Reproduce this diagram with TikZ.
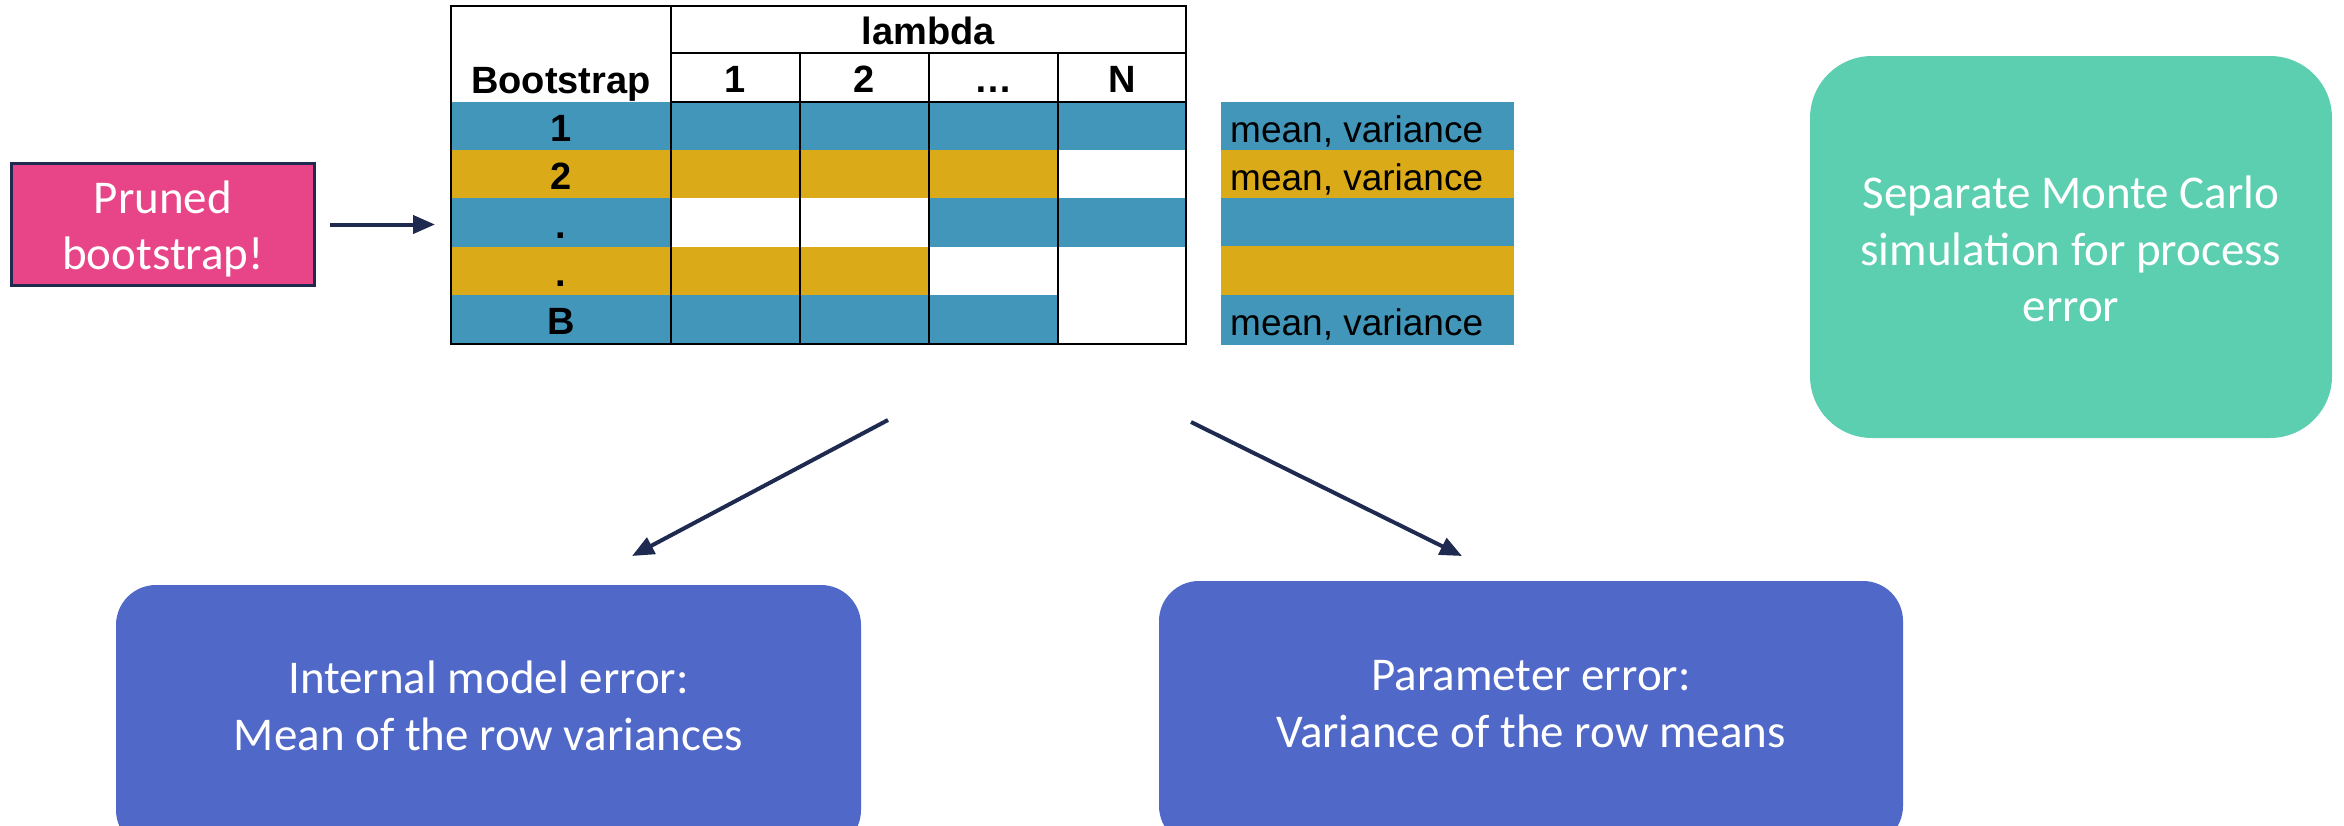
\documentclass[tikz,border=0pt]{standalone}
\usepackage{fontspec}
\setmainfont{Carlito}
\newfontfamily\arialfont{Liberation Sans}
\usetikzlibrary{arrows.meta}
\definecolor{tblue}{RGB}{65,150,186}
\definecolor{tgold}{RGB}{218,170,24}
\definecolor{navy}{RGB}{31,42,80}
\definecolor{pinkc}{RGB}{232,69,137}
\definecolor{greenc}{RGB}{93,207,177}
\definecolor{bluebox}{RGB}{80,104,200}
\begin{document}
\begin{tikzpicture}[x=1pt,y=-1pt,
  tb/.style={font=\arialfont\bfseries\fontsize{38}{44}\selectfont, anchor=base, inner sep=0},
  mv/.style={font=\arialfont\fontsize{37}{44}\selectfont, anchor=base west, inner sep=0},
  arr/.style={draw=navy, line width=4pt, -{Triangle[length=22pt,width=18pt]}},
  wtxt/.style={text=white, font=\fontsize{47}{56.5}\selectfont, align=center, inner sep=0},
  grid/.style={line width=2.5pt, draw=black},
]
\useasboundingbox (0,0) rectangle (2344,825);
\clip (0,0) rectangle (2344,825);

% ---------- table fills ----------
\fill[tblue] (451,102) rectangle (1186,150);
\fill[tgold] (451,150) rectangle (1058,198);
\fill[tblue] (451,198) rectangle (671,247);
\fill[tblue] (929,198) rectangle (1186,247);
\fill[tgold] (451,247) rectangle (929,295);
\fill[tblue] (451,295) rectangle (1058,344);

% ---------- table lines ----------
\draw[grid] (451,6) rectangle (1186,344);
\draw[grid] (671,6) -- (671,344);
\draw[grid] (671,53) -- (1186,53);
\draw[grid] (671,102) -- (1186,102);
\draw[grid] (800,53) -- (800,344);
\draw[grid] (929,53) -- (929,344);
\draw[grid] (1058,53) -- (1058,344);
\node[inner sep=0, minimum width=735, minimum height=338] (tbl) at (818.5,175) {};

% ---------- table texts ----------
\node[tb] (lam) at (928.5,44) {lambda};
\node[tb] (bs) at (561,93) {Bootstrap};
\node[tb] (h1) at (735.5,92) {1};
\node[tb] (h2) at (864.5,92) {2};
\node[tb] (hd) at (993.5,92) {…};
\node[tb] (hn) at (1122,92) {N};
\node[tb] (r1) at (561,141) {1};
\node[tb] (r2) at (561,189) {2};
\node[tb] (r3) at (561,238) {.};
\node[tb] (r4) at (561,286) {.};
\node[tb] (r5) at (561,334) {B};

% ---------- mean / variance column ----------
\fill[tblue] (1221,102) rectangle (1514,150);
\fill[tgold] (1221,150) rectangle (1514,198);
\fill[tblue] (1221,198) rectangle (1514,246);
\fill[tgold] (1221,246) rectangle (1514,295);
\fill[tblue] (1221,295) rectangle (1514,345);
\node[mv] (mv1) at (1230,142) {mean, variance};
\node[mv] (mv2) at (1230,190) {mean, variance};
\node[mv] (mv5) at (1230,335) {mean, variance};

% ---------- pink box ----------
\node[draw=navy, line width=3pt, fill=pinkc, minimum width=303, minimum height=122, inner sep=0] (pink) at (163,224.5) {};
\node[wtxt] (pinkt) at (163,229) {Pruned\\bootstrap!};
\coordinate (p1e) at (435,224.5);
\draw[arr, shorten <=14pt] (pink.east) -- (p1e);

% ---------- green box ----------
\node[fill=greenc, rounded corners=62pt, minimum width=522, minimum height=382, inner sep=0] (mc) at (2071,247) {};
\node[wtxt] (mct) at (2071,249) {Separate Monte Carlo\\simulation for process\\error};

% ---------- bottom boxes ----------
\node[fill=bluebox, rounded corners=40pt, minimum width=745, minimum height=265, inner sep=0] (ime) at (488.5,717.5) {};
\node[wtxt] (imet) at (488.5,706) {Internal model error:\\Mean of the row variances};
\node[fill=bluebox, rounded corners=40pt, minimum width=744, minimum height=265, inner sep=0] (pe) at (1531,713.5) {};
\node[wtxt] (pet) at (1531,704) {Parameter error:\\Variance of the row means};

% ---------- arrows down ----------
\coordinate (d1s) at (888,420);
\coordinate (d1e) at (632,556);
\coordinate (d2s) at (1191,422);
\coordinate (d2e) at (1462,556);
\draw[arr] (d1s) -- (d1e);
\draw[arr] (d2s) -- (d2e);
\end{tikzpicture}
\end{document}
